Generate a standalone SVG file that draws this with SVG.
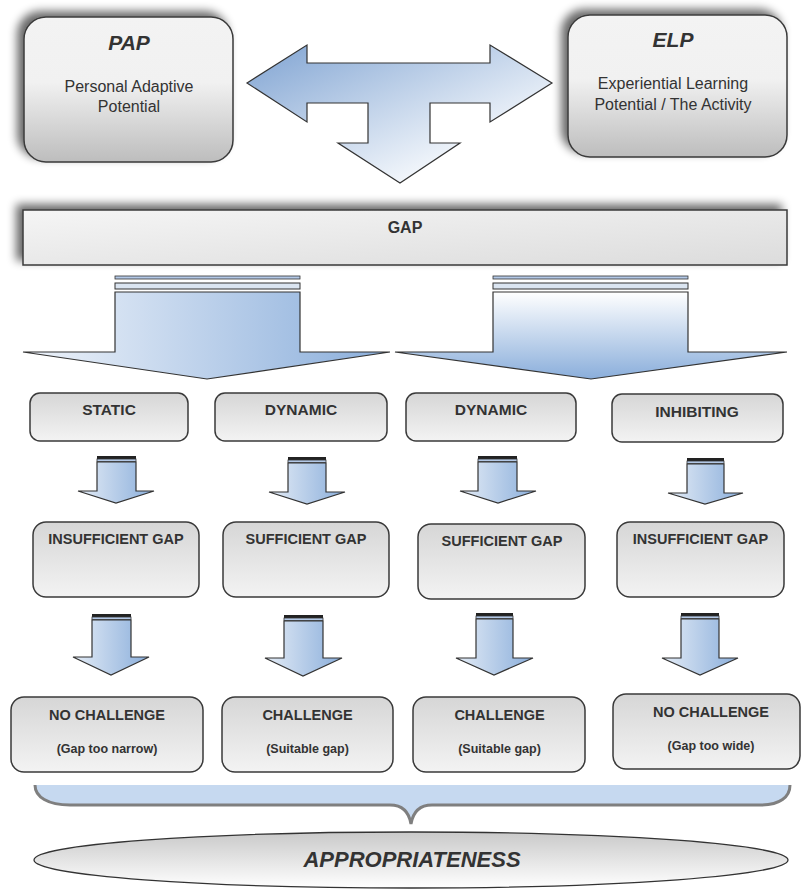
<svg xmlns="http://www.w3.org/2000/svg" width="802" height="893" viewBox="0 0 802 893">
<defs>
  <linearGradient id="bigBox" x1="0" y1="0" x2="0" y2="1">
    <stop offset="0" stop-color="#f3f3f3"/>
    <stop offset="0.45" stop-color="#f1f1f1"/>
    <stop offset="1" stop-color="#bdbdbd"/>
  </linearGradient>
  <linearGradient id="smallBox" x1="0" y1="0" x2="0" y2="1">
    <stop offset="0" stop-color="#d6d6d6"/>
    <stop offset="1" stop-color="#f3f3f3"/>
  </linearGradient>
  <linearGradient id="gapFill" x1="0" y1="0" x2="1" y2="1">
    <stop offset="0" stop-color="#f5f5f5"/>
    <stop offset="1" stop-color="#dcdcdc"/>
  </linearGradient>
  <linearGradient id="topArrow" x1="0" y1="0" x2="1" y2="1">
    <stop offset="0" stop-color="#7fa3d2"/>
    <stop offset="0.75" stop-color="#f2f6fb"/>
    <stop offset="1" stop-color="#ffffff"/>
  </linearGradient>
  <linearGradient id="eqFill" x1="0" y1="0" x2="1" y2="0">
    <stop offset="0" stop-color="#eef3fa"/>
    <stop offset="1" stop-color="#8aaedb"/>
  </linearGradient>
  <linearGradient id="diseqFill" x1="0" y1="0" x2="0" y2="1">
    <stop offset="0" stop-color="#ffffff"/>
    <stop offset="1" stop-color="#8aaedb"/>
  </linearGradient>
  <linearGradient id="smallArrow" x1="0" y1="0" x2="1" y2="0">
    <stop offset="0" stop-color="#e4ecf6"/>
    <stop offset="1" stop-color="#8aaedb"/>
  </linearGradient>
  <linearGradient id="ellFill" x1="0" y1="0" x2="0" y2="1">
    <stop offset="0" stop-color="#c9c9c9"/>
    <stop offset="1" stop-color="#ffffff"/>
  </linearGradient>
  <filter id="shadow" x="-10%" y="-30%" width="120%" height="160%">
    <feGaussianBlur in="SourceAlpha" stdDeviation="5"/>
    <feOffset dx="-6" dy="-5" result="b"/>
    <feComponentTransfer><feFuncA type="linear" slope="0.6"/></feComponentTransfer>
    <feMerge><feMergeNode/><feMergeNode in="SourceGraphic"/></feMerge>
  </filter>
  <style>
    .box{stroke:#3a3a3a;stroke-width:1.5}
    .big{fill:url(#bigBox)}
    .small{fill:url(#smallBox)}
    text{font-family:"Liberation Sans",Arial,sans-serif;fill:#333333;text-anchor:middle}
    .bi{font-weight:bold;font-style:italic}
    .b{font-weight:bold}
    .arr{stroke:#333333;stroke-width:1.2;stroke-linejoin:miter}
    .bar1{fill:#222222}
    .bar2{fill:#b3c8e6;stroke:#333333;stroke-width:0.8}
    .sa{fill:url(#smallArrow)}
  </style>
</defs>
<rect width="802" height="893" fill="#ffffff"/>

<g id="pap">
  <rect class="box big" x="24" y="17" width="209" height="145" rx="22" filter="url(#shadow)"/>
  <text class="bi" x="129" y="50" font-size="21">PAP</text>
  <text x="129" y="92" font-size="16">Personal Adaptive</text>
  <text x="129" y="112" font-size="16">Potential</text>
</g>
<g id="elp">
  <rect class="box big" x="568" y="15" width="219" height="142" rx="22" filter="url(#shadow)"/>
  <text class="bi" x="673" y="47" font-size="21">ELP</text>
  <text x="673" y="89" font-size="16">Experiential Learning</text>
  <text x="673" y="110" font-size="16">Potential / The Activity</text>
</g>
<g id="gap">
  <rect x="23" y="210" width="764" height="55" fill="url(#gapFill)" stroke="#3a3a3a" stroke-width="1.5" filter="url(#shadow)"/>
  <text class="b" x="405" y="233" font-size="16">GAP</text>
</g>

<g id="connectors">
  <path class="arr" fill="url(#topArrow)" d="M247,83 L307,45 L307,63 L490,63 L490,45 L552,83 L490,122 L490,103 L430,103 L430,143 L460,143 L400,183 L338,143 L368,143 L368,103 L307,103 L307,122 Z"/>

  <g id="eq-arrow">
    <rect class="bar2" x="115" y="276" width="185" height="3"/>
    <rect x="115" y="283" width="185" height="6" fill="#dbe5f1" stroke="#333" stroke-width="1"/>
    <path class="arr" fill="url(#eqFill)" d="M115,292 L300,292 L300,352 L390,352 L207,379 L23,352 L115,352 Z"/>
  </g>
  <g id="diseq-arrow">
    <rect class="bar2" x="493" y="276" width="195" height="3"/>
    <rect x="493" y="283" width="195" height="6" fill="#dbe5f1" stroke="#333" stroke-width="1"/>
    <path class="arr" fill="url(#diseqFill)" d="M493,292 L688,292 L688,352 L787,352 L591,379 L395,352 L493,352 Z"/>
  </g>

  <g id="a1">
    <rect class="bar1" x="97" y="456" width="39" height="3"/>
    <rect class="bar2" x="97" y="459" width="39" height="2.5"/>
    <path class="arr sa" d="M97,462 L136,462 L136,491 L154,491 L116,503 L78,491 L97,491 Z"/>
  </g>
  <g id="a2">
    <rect class="bar1" x="288" y="457" width="38" height="3"/>
    <rect class="bar2" x="288" y="460" width="38" height="2.5"/>
    <path class="arr sa" d="M288,463 L326,463 L326,492 L345,492 L307,504 L269,492 L288,492 Z"/>
  </g>
  <g id="a3">
    <rect class="bar1" x="478" y="456" width="39" height="3"/>
    <rect class="bar2" x="478" y="459" width="39" height="2.5"/>
    <path class="arr sa" d="M478,462 L517,462 L517,491 L536,491 L498,503 L460,491 L478,491 Z"/>
  </g>
  <g id="a4">
    <rect class="bar1" x="687" y="458" width="37" height="3"/>
    <rect class="bar2" x="687" y="461" width="37" height="2.5"/>
    <path class="arr sa" d="M687,464 L724,464 L724,493 L743,493 L705,504 L668,493 L687,493 Z"/>
  </g>

  <g id="b1">
    <rect class="bar1" x="92" y="614" width="39" height="3"/>
    <rect class="bar2" x="92" y="617" width="39" height="2.5"/>
    <path class="arr sa" d="M92,620 L131,620 L131,657 L149,657 L111,675 L73,657 L92,657 Z"/>
  </g>
  <g id="b2">
    <rect class="bar1" x="284" y="615" width="39" height="3"/>
    <rect class="bar2" x="284" y="618" width="39" height="2.5"/>
    <path class="arr sa" d="M284,621 L323,621 L323,658 L342,658 L303,676 L265,658 L284,658 Z"/>
  </g>
  <g id="b3">
    <rect class="bar1" x="476" y="613" width="37" height="3"/>
    <rect class="bar2" x="476" y="616" width="37" height="2.5"/>
    <path class="arr sa" d="M476,619 L513,619 L513,658 L533,658 L494,675 L456,658 L476,658 Z"/>
  </g>
  <g id="b4">
    <rect class="bar1" x="681" y="613" width="38" height="3"/>
    <rect class="bar2" x="681" y="616" width="38" height="2.5"/>
    <path class="arr sa" d="M681,619 L719,619 L719,658 L738,658 L700,675 L662,658 L681,658 Z"/>
  </g>

  <g id="brace">
    <path fill="#c6d9f0" d="M35,785 L790,785 C790,797 780,805 760,805 L432,805 C420,805 413,812 411,824 C409,812 402,805 390,805 L70,805 C48,805 35,797 35,785 Z"/>
    <path fill="none" stroke="#7f7f7f" stroke-width="3" d="M790,785 C790,797 780,805 760,805 L432,805 C420,805 413,812 411,824 C409,812 402,805 390,805 L70,805 C48,805 35,797 35,785"/>
  </g>
</g>

<g id="static">
  <rect class="box small" x="30" y="393" width="158" height="48" rx="10"/>
  <text class="b" x="109" y="415" font-size="15.5">STATIC</text>
</g>
<g id="dynamic1">
  <rect class="box small" x="215" y="393" width="172" height="48" rx="10"/>
  <text class="b" x="301" y="415" font-size="15.5">DYNAMIC</text>
</g>
<g id="dynamic2">
  <rect class="box small" x="406" y="393" width="170" height="48" rx="10"/>
  <text class="b" x="491" y="415" font-size="15.5">DYNAMIC</text>
</g>
<g id="inhibiting">
  <rect class="box small" x="612" y="394" width="171" height="48" rx="10"/>
  <text class="b" x="697" y="417" font-size="15.5">INHIBITING</text>
</g>

<g id="insufficient1">
  <rect class="box small" x="33" y="522" width="166" height="75" rx="13"/>
  <text class="b" x="116" y="544" font-size="14.5">INSUFFICIENT GAP</text>
</g>
<g id="sufficient1">
  <rect class="box small" x="223" y="522" width="166" height="75" rx="13"/>
  <text class="b" x="306" y="544" font-size="14.5">SUFFICIENT GAP</text>
</g>
<g id="sufficient2">
  <rect class="box small" x="418" y="524" width="167" height="75" rx="13"/>
  <text class="b" x="502" y="546" font-size="14.5">SUFFICIENT GAP</text>
</g>
<g id="insufficient2">
  <rect class="box small" x="617" y="522" width="167" height="75" rx="13"/>
  <text class="b" x="700.5" y="544" font-size="14.5">INSUFFICIENT GAP</text>
</g>

<g id="nochallenge1">
  <rect class="box small" x="11" y="697" width="192" height="75" rx="13"/>
  <text class="b" x="107" y="720" font-size="14.5">NO CHALLENGE</text>
  <text class="b" x="107" y="753" font-size="12.5">(Gap too narrow)</text>
</g>
<g id="challenge1">
  <rect class="box small" x="222" y="697" width="171" height="75" rx="13"/>
  <text class="b" x="307.5" y="720" font-size="14.5">CHALLENGE</text>
  <text class="b" x="307.5" y="753" font-size="12.5">(Suitable gap)</text>
</g>
<g id="challenge2">
  <rect class="box small" x="413" y="697" width="172" height="75" rx="13"/>
  <text class="b" x="499.5" y="720" font-size="14.5">CHALLENGE</text>
  <text class="b" x="499.5" y="753" font-size="12.5">(Suitable gap)</text>
</g>
<g id="nochallenge2">
  <rect class="box small" x="613" y="694" width="187" height="75" rx="13"/>
  <text class="b" x="711" y="717" font-size="14.5">NO CHALLENGE</text>
  <text class="b" x="711" y="750" font-size="12.5">(Gap too wide)</text>
</g>

<g id="appropriateness">
  <ellipse cx="411" cy="860" rx="377" ry="28" fill="url(#ellFill)" stroke="#333333" stroke-width="1.3"/>
  <text class="bi" x="412" y="867" font-size="22">APPROPRIATENESS</text>
</g>
</svg>
